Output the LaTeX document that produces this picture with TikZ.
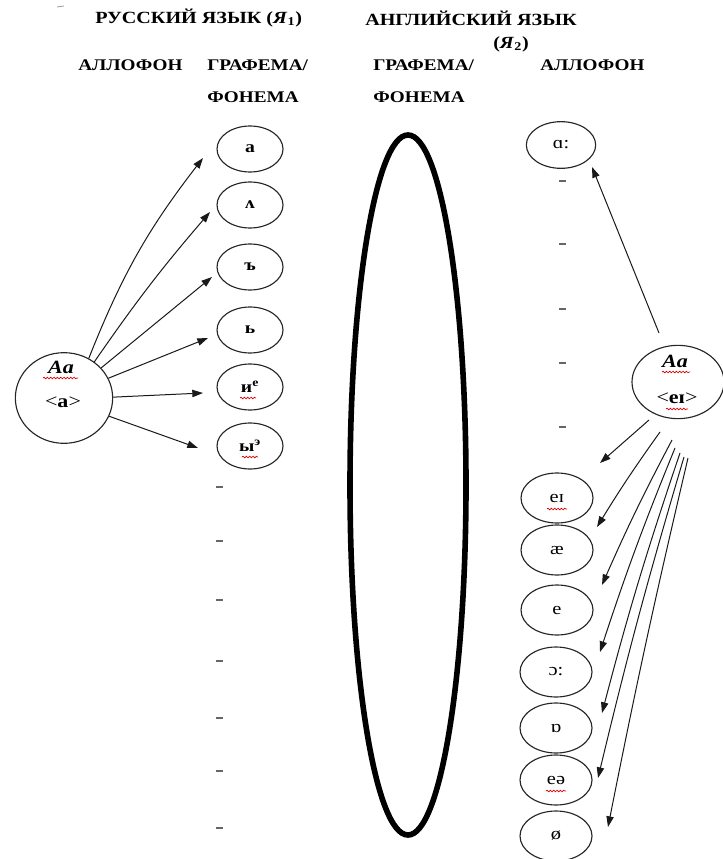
\documentclass[tikz,border=0pt]{standalone}
\usepackage{fontspec}
\setmainfont{Liberation Serif}[FakeStretch=1.18]
\usetikzlibrary{shapes.geometric,arrows.meta,decorations.pathmorphing}

\begin{document}
\begin{tikzpicture}[x=0.75pt,y=-0.75pt,
 head/.style={font=\bfseries\fontsize{12.8}{14}\selectfont, inner sep=0, anchor=west},
 sub/.style={font=\bfseries\fontsize{12.2}{13}\selectfont, inner sep=0, anchor=west},
 ell/.style={ellipse, draw=black!85, line width=0.85pt, inner sep=0},
 sm/.style={ell, minimum width=49.5pt, minimum height=34.5pt, font=\bfseries\fontsize{12.5}{13}\selectfont},
 rs/.style={ell, minimum width=54pt, minimum height=37.5pt, font=\fontsize{13}{14}\selectfont},
 lbl/.style={inner sep=0, font=\bfseries\fontsize{14}{15}\selectfont},
 arr/.style={-{Triangle[length=8pt,width=5.5pt]}, line width=0.75pt, black!90},
 dsh/.style={line width=1.1pt, black!60},
 squig/.style={red!85!black, line width=0.5pt, decorate, decoration={snake, amplitude=0.6pt, segment length=2.5pt}},
]
\useasboundingbox (0,0) rectangle (723,859);

% stray mark top-left
\draw[black!40, line width=0.6pt] (57,7) -- (64,6);

% headings
\node[head] (h1) at (95,18) {РУССКИЙ ЯЗЫК (\textit{Я}\textsubscript{1})};
\node[head] (h2) at (365,18) {АНГЛИЙСКИЙ ЯЗЫК};
\node[head] (h3) at (493,44) {(\textit{Я}\textsubscript{2})};
\node[sub] (c1) at (78,65) {АЛЛОФОН};
\node[sub] (c2) at (207,65) {ГРАФЕМА/};
\node[sub] (c3) at (207,97) {ФОНЕМА};
\node[sub] (c4) at (373,65) {ГРАФЕМА/};
\node[sub] (c5) at (373,97) {ФОНЕМА};
\node[sub] (c6) at (540,65) {АЛЛОФОН};

% big ellipse
\node[ellipse, draw=black, line width=4.2pt, minimum width=87pt, minimum height=525pt, inner sep=0] (mid) at (408,485) {};

% left side
\node[ell, minimum width=73pt, minimum height=68pt] (L) at (64,398) {};
\node[lbl] (Laa) at (61,367) {\textit{Aa}};
\node[lbl] (Lg) at (63,402) {{\mdseries<}a{\mdseries>}};
\draw[squig] (43,378) -- (78,378);

\node[sm] (ra) at (250,149) {а};
\node[sm] (rv) at (250,205) {ʌ};
\node[sm] (rhard) at (250,267) {ъ};
\node[sm] (rsoft) at (250,330) {ь};
\node[sm] (rie) at (250,387) {и\textsuperscript{е}};
\node[sm] (ryi) at (250,446) {ы\textsuperscript{э}};
\draw[squig] (240,398) -- (256,398);
\draw[squig] (242,457) -- (258,457);

\coordinate (t1) at (203,158);
\coordinate (t2) at (210,212);
\coordinate (t3) at (212,277);
\coordinate (t4) at (208,338);
\coordinate (t5) at (203,393);
\coordinate (t6) at (198,448);
\draw[arr] (L.58) to[bend left=8] (t1);
\draw[arr] (L.50) to[bend left=3] (t2);
\draw[arr] (L.39) -- (t3);
\draw[arr] (L.24) -- (t4);
\draw[arr] (L.1) -- (t5);
\draw[arr] (L.-22) -- (t6);

\foreach \y [count=\i] in {487,541,600,661,718,771,828}
  \draw[dsh] (216,\y) -- (223,\y);

% right side
\node[rs, minimum width=52pt, minimum height=35pt] (ea) at (561,145) {ɑ:};
\foreach \y [count=\i] in {181,244,309,363,427}
  \draw[dsh] (559,\y) -- (566,\y);

\node[ell, minimum width=69pt, minimum height=55pt] (R) at (678,382) {};
\node[lbl] (Raa) at (675,361) {\textit{Aa}};
\node[lbl] (Rg) at (677,398) {{\mdseries<}eɪ{\mdseries>}};
\draw[squig] (662,372) -- (690,372);
\draw[squig] (666,409) -- (688,409);

\node[rs] (e1) at (557,498) {eɪ};
\node[rs] (e2) at (557,550) {æ};
\node[rs] (e3) at (557,610) {e};
\node[rs] (e4) at (556,672) {ɔ:};
\node[rs] (e5) at (556,728) {ɒ};
\node[rs] (e6) at (556,780) {eə};
\node[rs] (e7) at (556,836) {ø};
\draw[squig] (547,509) -- (567,509);
\draw[squig] (546,791) -- (566,791);

\coordinate (s0) at (659,333);
\coordinate (u0) at (592,167);
\draw[arr] (s0) -- (u0);

\coordinate (s1) at (649,420); \coordinate (u1) at (600,463);
\coordinate (s2) at (660,432); \coordinate (u2) at (597,527);
\coordinate (s3) at (672,440); \coordinate (u3) at (602,585);
\coordinate (s4) at (675,448); \coordinate (u4) at (600,652);
\coordinate (s5) at (680,453); \coordinate (u5) at (602,713);
\coordinate (s6) at (684,457); \coordinate (u6) at (598,778);
\coordinate (s7) at (688,458); \coordinate (u7) at (608,827);
\draw[arr] (s1) -- (u1);
\draw[arr] (s2) to[bend right=2] (u2);
\draw[arr] (s3) to[bend right=2] (u3);
\draw[arr] (s4) to[bend right=2] (u4);
\draw[arr] (s5) to[bend right=2] (u5);
\draw[arr] (s6) to[bend right=1.5] (u6);
\draw[arr] (s7) to[bend right=1] (u7);
\end{tikzpicture}
\end{document}
